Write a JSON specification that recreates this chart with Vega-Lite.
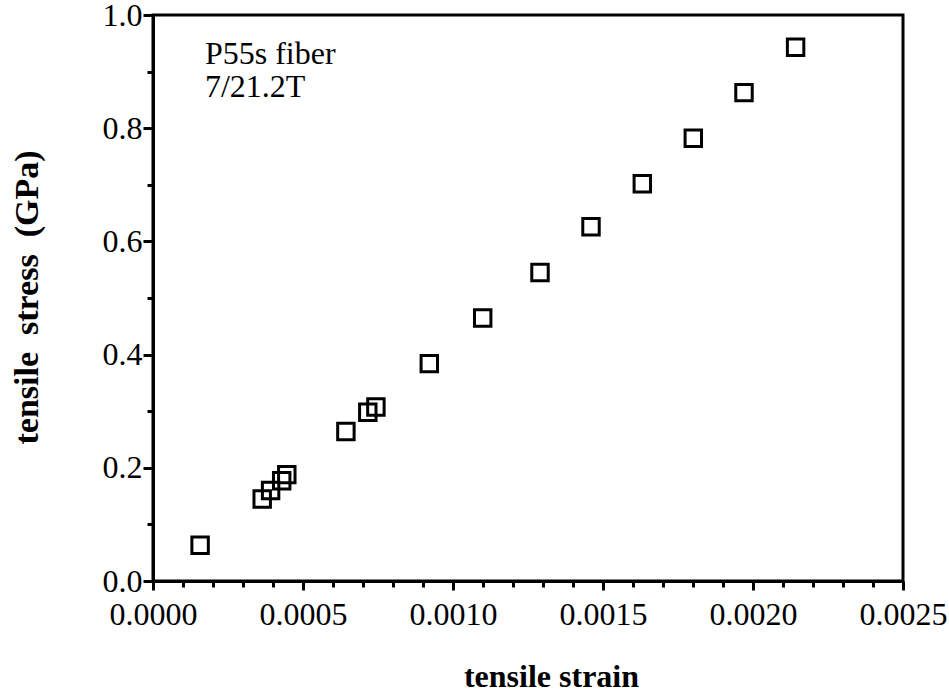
{
  "$schema": "https://vega.github.io/schema/vega-lite/v6.json",
  "width": 750,
  "height": 566,
  "autosize": {"type": "none"},
  "padding": {"left": 153, "top": 15, "right": 46, "bottom": 113},
  "background": "white",
  "config": {
    "view": {"stroke": "black", "strokeWidth": 3},
    "font": "'Liberation Serif', 'Times New Roman', serif",
    "axis": {"grid": false, "domainColor": "black", "domainWidth": 3, "tickColor": "black", "tickWidth": 3, "labelColor": "black", "titleColor": "black", "labelFont": "'Liberation Serif', 'Times New Roman', serif", "titleFont": "'Liberation Serif', 'Times New Roman', serif"}
  },
  "layer": [
    {
      "data": {"values": [
        {"strain": 0.000157, "stress": 0.0632},
        {"strain": 0.000364, "stress": 0.145},
        {"strain": 0.000392, "stress": 0.160},
        {"strain": 0.000429, "stress": 0.177},
        {"strain": 0.000446, "stress": 0.188},
        {"strain": 0.000643, "stress": 0.264},
        {"strain": 0.000716, "stress": 0.298},
        {"strain": 0.000743, "stress": 0.3075},
        {"strain": 0.000921, "stress": 0.384},
        {"strain": 0.001099, "stress": 0.4646},
        {"strain": 0.00129, "stress": 0.545},
        {"strain": 0.00146, "stress": 0.626},
        {"strain": 0.001631, "stress": 0.7017},
        {"strain": 0.001801, "stress": 0.7823},
        {"strain": 0.00197, "stress": 0.8628},
        {"strain": 0.002142, "stress": 0.943}
      ]},
      "mark": {"type": "point", "shape": "square", "filled": false, "stroke": "black", "strokeWidth": 3, "size": 270, "opacity": 1},
      "encoding": {
        "x": {"field": "strain", "type": "quantitative",
          "scale": {"domain": [0, 0.0025], "nice": false, "zero": false},
          "axis": {"orient": "bottom", "values": [0, 0.0005, 0.001, 0.0015, 0.002, 0.0025], "format": ".4f", "tickSize": 9, "labelFontSize": 32, "labelPadding": 9, "labelFlush": false, "title": "tensile strain", "titleFontSize": 32, "titleFontWeight": "bold", "titleBaseline": "alphabetic", "titleX": 398, "titleY": 105, "titleAnchor": null}},
        "y": {"field": "stress", "type": "quantitative",
          "scale": {"domain": [0, 1], "nice": false},
          "axis": {"orient": "left", "values": [0, 0.2, 0.4, 0.6, 0.8, 1.0], "format": ".1f", "tickSize": 10, "labelFontSize": 32, "labelPadding": 1, "labelFlush": false, "title": "tensile\u00a0\u00a0stress\u00a0\u00a0(GPa)", "titleFontSize": 34, "titleFontWeight": "bold", "titleBaseline": "alphabetic", "titleAngle": -90, "titleX": -116, "titleY": 282, "titleAlign": "center"}}
      }
    },
    {
      "data": {"values": [{"note": "P55s fiber / 7/21.2T"}]},
      "mark": {"type": "text", "text": ["P55s fiber", "7/21.2T"], "align": "left", "baseline": "alphabetic", "font": "'Liberation Serif', 'Times New Roman', serif", "fontSize": 32, "lineHeight": 33, "color": "black"},
      "encoding": {
        "x": {"datum": 0.000173, "type": "quantitative",
          "axis": {"orient": "bottom", "values": [0.0001, 0.0002, 0.0003, 0.0004, 0.0006, 0.0007, 0.0008, 0.0009, 0.0011, 0.0012, 0.0013, 0.0014, 0.0016, 0.0017, 0.0018, 0.0019, 0.0021, 0.0022, 0.0023, 0.0024], "labels": false, "domain": false, "tickSize": 6, "title": null}},
        "y": {"datum": 0.9135, "type": "quantitative",
          "axis": {"orient": "left", "values": [0.1, 0.3, 0.5, 0.7, 0.9], "labels": false, "domain": false, "tickSize": 6, "title": null}}
      }
    }
  ],
  "resolve": {"axis": {"x": "independent", "y": "independent"}}
}
